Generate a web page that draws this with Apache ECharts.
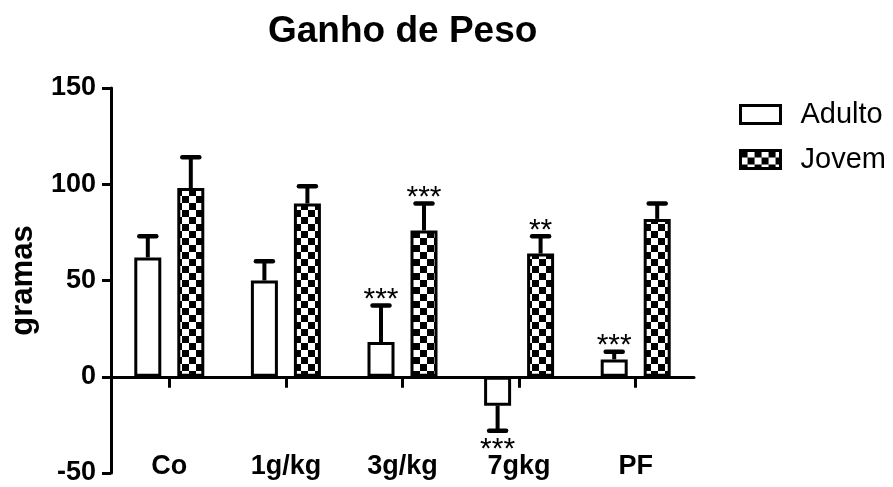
<!DOCTYPE html>
<html>
<head>
<meta charset="utf-8">
<script src="https://cdn.jsdelivr.net/npm/echarts@6/dist/echarts.min.js"></script>
<style>html,body{margin:0;padding:0;background:#fff}#c{width:893px;height:487px}</style>
</head>
<body>
<div id="c"></div>
<script>
// ---- data ----
const categories = ['Co', '1g/kg', '3g/kg', '7gkg', 'PF'];
const adulto = [62, 50, 18, -15, 9];
const adultoErr = [11, 10, 19, 13, 4];
const jovem = [98, 90, 76, 64, 82];
const jovemErr = [16, 9, 14, 9, 8];
const sigAdulto = ['', '', '***', '***', '***'];
const sigJovem = ['', '', '***', '**', ''];
const yTicks = [-50, 0, 50, 100, 150];

// ---- styles ----
const FONT = 'Liberation Sans, Arial, sans-serif';
const BAR_W = 27, BAR_GAP = 16, BORDER = 3;

function checker(cell) {
  const c = document.createElement('canvas');
  c.width = cell * 2; c.height = cell * 2;
  const g = c.getContext('2d');
  g.fillStyle = '#fff'; g.fillRect(0, 0, cell * 2, cell * 2);
  g.fillStyle = '#000';
  g.fillRect(0, 0, cell, cell);
  g.fillRect(cell, cell, cell, cell);
  return c;
}
const pattern = { image: checker(7), repeat: 'repeat' };

function errSeries(vals, errs, sigs, side) {
  return {
    type: 'custom',
    xAxisIndex: 0,
    z: 5,
    silent: true,
    data: vals.map((v, i) => [i, v, v + (v < 0 ? -errs[i] : errs[i])]),
    renderItem: function (params, api) {
      const i = params.dataIndex;
      const p0 = api.coord([api.value(0), api.value(1)]);
      const p1 = api.coord([api.value(0), api.value(2)]);
      const off = side * (BAR_W + BAR_GAP) / 2;
      const x = p0[0] + off;
      const down = api.value(2) < 0;
      const children = [
        { type: 'line', shape: { x1: x, y1: p0[1], x2: x, y2: p1[1] }, style: { stroke: '#000', lineWidth: 4 } },
        { type: 'line', shape: { x1: x - 8.5, y1: p1[1], x2: x + 8.5, y2: p1[1] }, style: { stroke: '#000', lineWidth: 4.5, lineCap: 'round' } }
      ];
      if (sigs[i]) {
        const yc = down ? p1[1] + 12 : p1[1] - 12.5;
        children.push({
          type: 'text',
          style: { text: sigs[i], x: x, y: yc + 7, align: 'center', verticalAlign: 'middle', fill: '#000', font: 'normal 30px ' + FONT }
        });
      }
      return { type: 'group', children: children };
    }
  };
}

const chart = echarts.init(document.getElementById('c'), null, { renderer: 'canvas' });
chart.setOption({
  animation: false,
  backgroundColor: '#fff',
  title: {
    text: 'Ganho de Peso',
    left: 263, top: 8,
    textStyle: { fontFamily: FONT, fontSize: 37, fontWeight: 'bold', color: '#000' }
  },
  legend: {
    orient: 'vertical',
    left: 734, top: 95,
    itemWidth: 40, itemHeight: 18, itemGap: 16,
    icon: 'rect',
    textStyle: { fontFamily: FONT, fontSize: 29, color: '#000', padding: [0, 0, 0, 15] },
    data: [
      { name: 'Adulto', itemStyle: { color: '#fff', borderColor: '#000', borderWidth: 3 } },
      { name: 'Jovem', itemStyle: { color: pattern, borderColor: '#000', borderWidth: 3 } }
    ]
  },
  grid: { left: 111, right: 199, top: 88, bottom: 14, containLabel: false, outerBoundsMode: 'none' },
  xAxis: {
    type: 'category',
    data: categories,
    axisLine: { onZero: true, lineStyle: { color: '#000', width: 3 } },
    axisTick: { show: true, alignWithLabel: true, length: 11, lineStyle: { color: '#000', width: 3 } },
    axisLabel: { margin: -20, fontFamily: FONT, fontSize: 27, fontWeight: 'bold', color: '#000' },
    splitLine: { show: false }
  },
  yAxis: {
    type: 'value',
    min: yTicks[0], max: yTicks[yTicks.length - 1], interval: 50,
    name: 'gramas',
    nameLocation: 'middle', nameRotate: 90, nameGap: 72,
    nameTextStyle: { fontFamily: FONT, fontSize: 31, fontWeight: 'bold', color: '#000' },
    axisLine: { show: true, lineStyle: { color: '#000', width: 3 } },
    axisTick: { show: true, length: 9, lineStyle: { color: '#000', width: 3 } },
    axisLabel: { margin: 15, fontFamily: FONT, fontSize: 27, fontWeight: 'bold', color: '#000' },
    splitLine: { show: false }
  },
  series: [
    {
      name: 'Adulto', type: 'bar', data: adulto,
      barWidth: BAR_W, barGap: (BAR_GAP / BAR_W * 100) + '%',
      itemStyle: { color: '#fff', borderColor: '#000', borderWidth: BORDER }
    },
    {
      name: 'Jovem', type: 'bar', data: jovem,
      barWidth: BAR_W,
      itemStyle: { color: pattern, borderColor: '#000', borderWidth: BORDER }
    },
    errSeries(adulto, adultoErr, sigAdulto, -1),
    errSeries(jovem, jovemErr, sigJovem, 1)
  ]
});
</script>
</body>
</html>
